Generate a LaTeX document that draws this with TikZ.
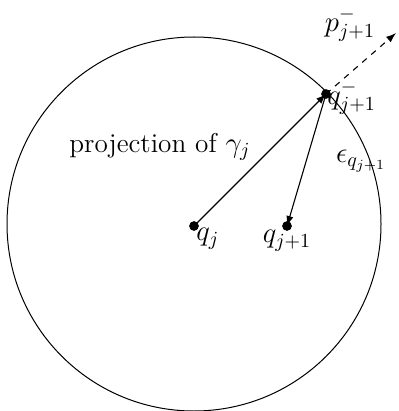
\documentclass[tikz,border=0pt]{standalone}
\usetikzlibrary{arrows.meta}

\begin{document}
\begin{tikzpicture}[x=0.5pt,y=-0.5pt,
	every node/.style={font=\fontsize{13.6}{16}\selectfont},
	tip/.style={-{Latex[length=5pt,width=3.6pt]}, line width=0.55pt}]
	\useasboundingbox (0,0) rectangle (398,411);
	\draw[line width=0.5pt] (194,224) circle (93.5pt);
	\coordinate (qj) at (194,226);
	\coordinate (qnext) at (287,226);
	\coordinate (qminus) at (326,94);
	\coordinate (pminus) at (396,33);
	\filldraw
			(qj) circle (2.2pt) node[anchor = north west, inner sep=1pt] (qjlab) {$q_j$}
			(qnext) circle (2.2pt) node[anchor = north, inner sep=2pt] (qnextlab) {$q_{j+1}$}
			(qminus) circle (2.2pt) node[anchor = west, inner sep=0.5pt, yshift=-2pt] (qminuslab) {$q^-_{j+1}$};
	\draw[tip] (qj) -- (qminus);
	\draw[tip] (qminus) -- (qnext);
	\draw[tip, dashed] (qminus) -- (pminus);
	\node (pminuslab) at (350,25) {$p^-_{j+1}$};
	\node (eps) at (361,161) {$\epsilon_{q_{j+1}}$};
	\node (proj) at (160,147) {projection of $\gamma_j$};
\end{tikzpicture}
\end{document}
